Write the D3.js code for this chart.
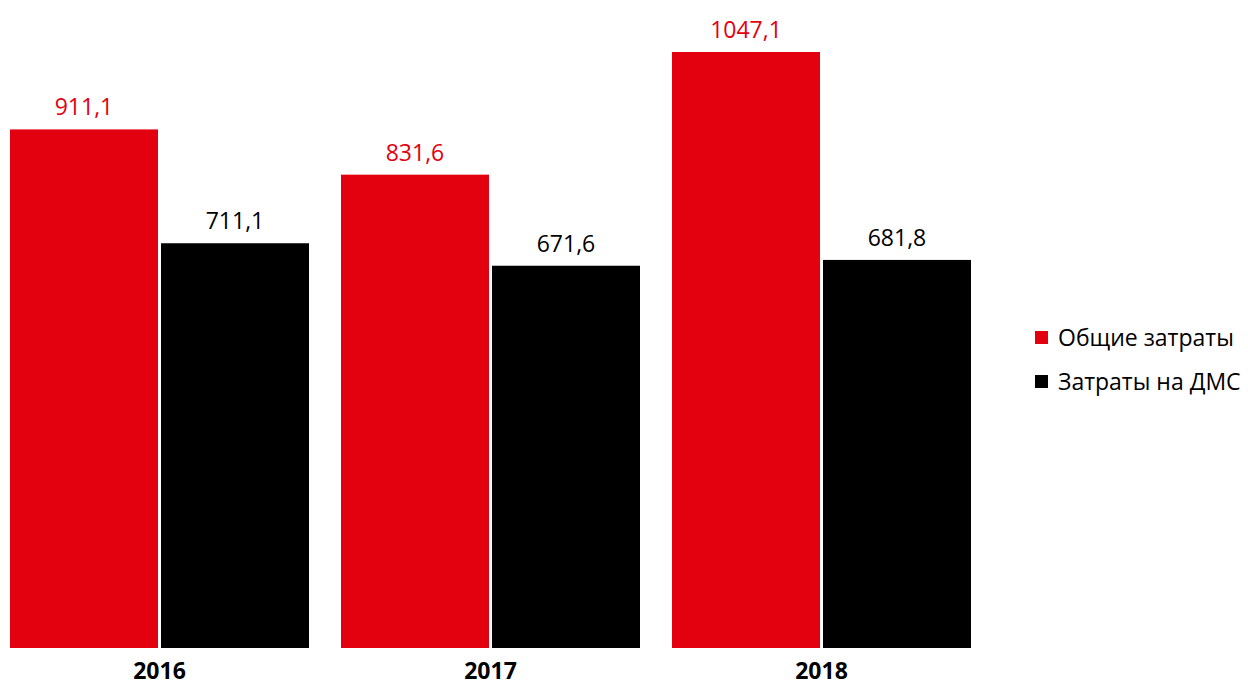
<!DOCTYPE html>
<html><head><meta charset="utf-8">
<script src="https://cdn.jsdelivr.net/npm/d3@7"></script>
<style>body{margin:0;background:#fff}svg{display:block}text{font-family:"Open Sans",sans-serif}</style>
</head><body><svg id="c" width="1248" height="687"></svg>
<script>
const years = ["2016","2017","2018"];
const seriesNames = ["Общие затраты","Затраты на ДМС"];
const totalCosts = [911.1, 831.6, 1047.1];
const dmsCosts = [711.1, 671.6, 681.8];
const colors = ["#e3000f","#000000"];
const labelColors = ["#e3000f","#000000"];
const values = [totalCosts, dmsCosts];
const fmt = v => v.toFixed(1).replace(".", ",");

const svg = d3.select("#c");
const x0 = d3.scaleBand().domain(years).range([10, 971]).paddingInner(32/331).paddingOuter(0);
const x1 = d3.scaleBand().domain(seriesNames).range([0, x0.bandwidth()]).paddingInner(3/151).paddingOuter(0);
const y = d3.scaleLinear().domain([0, 1047.1]).range([648, 52]);

const data = [];
years.forEach((yr, i) => seriesNames.forEach((s, j) => data.push({yr, s, j, v: values[j][i]})));

svg.selectAll("rect.bar").data(data).join("rect").attr("class","bar")
  .attr("x", d => x0(d.yr) + x1(d.s)).attr("width", x1.bandwidth())
  .attr("y", d => y(d.v)).attr("height", d => y(0) - y(d.v))
  .attr("fill", d => colors[d.j]);

svg.selectAll("text.val").data(data).join("text").attr("class","val")
  .attr("x", d => x0(d.yr) + x1(d.s) + x1.bandwidth()/2)
  .attr("y", d => y(d.v) - 14)
  .attr("text-anchor","middle").attr("font-size", 23)
  .attr("fill", d => labelColors[d.j]).text(d => fmt(d.v));

const xAxis = svg.append("g").attr("transform","translate(0,648)")
  .call(d3.axisBottom(x0).tickSize(0).tickPadding(15));
xAxis.select(".domain").remove();
xAxis.selectAll("text").attr("font-size", 23).attr("font-weight","bold").attr("fill","#000")
  .style("font-family",'"Open Sans",sans-serif');

const lg = svg.append("g").selectAll("g").data(seriesNames).join("g")
  .attr("transform", (d,i) => `translate(1035,${331 + i*44})`);
lg.append("rect").attr("width",13).attr("height",13).attr("fill",(d,i)=>colors[i]);
lg.append("text").attr("x",23).attr("y",7).attr("dy","0.35em").attr("font-size",23).attr("fill","#000").text(d=>d);
</script></body></html>
